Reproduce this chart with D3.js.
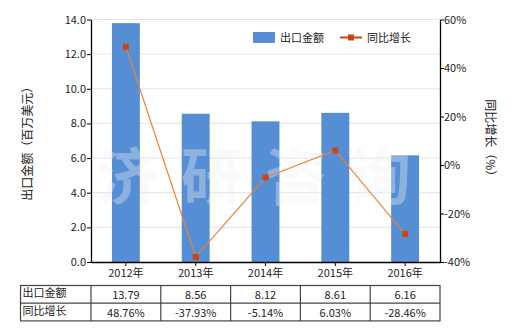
<!DOCTYPE html>
<html>
<head>
<meta charset="utf-8">
<script src="https://cdn.jsdelivr.net/npm/d3@7"></script>
<style>
  body { margin: 0; background: #fff; }
  svg { font-family: "Noto Sans CJK SC", "Noto Sans", sans-serif; }
</style>
</head>
<body>
<svg width="520" height="330"></svg>
<script>
const years = ["2012年", "2013年", "2014年", "2015年", "2016年"];
const exportValues = [13.79, 8.56, 8.12, 8.61, 6.16];
const growthValues = [48.76, -37.93, -5.14, 6.03, -28.46];
const exportLabels = ["13.79", "8.56", "8.12", "8.61", "6.16"];
const growthLabels = ["48.76%", "-37.93%", "-5.14%", "6.03%", "-28.46%"];
const leftTicks = [0, 2, 4, 6, 8, 10, 12, 14];
const rightTicks = [-40, -20, 0, 20, 40, 60];

const plotLeft = 91, plotRight = 440, plotTop = 19.5, plotBottom = 262;
const barColor = "#558ed5", lineColor = "#e8833a", markColor = "#c9470e";

const svg = d3.select("svg");

const x = d3.scaleBand()
  .domain(years)
  .range([plotLeft, plotRight]);

const yL = d3.scaleLinear().domain([0, 14]).range([plotBottom, plotTop]);
const yR = d3.scaleLinear().domain([-40, 60]).range([plotBottom, plotTop]);

// grid
svg.append("g").selectAll("line").data(leftTicks.slice(1))
  .enter().append("line")
  .attr("x1", plotLeft).attr("x2", plotRight)
  .attr("y1", d => yL(d)).attr("y2", d => yL(d))
  .attr("stroke", "#e3e3e3");

// bars
const barW = x.bandwidth() * 0.4;
svg.append("g").selectAll("rect").data(exportValues)
  .enter().append("rect")
  .attr("x", (d, i) => x(years[i]) + x.bandwidth() / 2 - barW / 2)
  .attr("y", d => yL(d))
  .attr("width", barW)
  .attr("height", d => plotBottom - yL(d))
  .attr("fill", barColor);

// watermark
svg.append("text")
  .attr("x", 265).attr("y", 200)
  .attr("text-anchor", "middle")
  .attr("font-size", 62)
  .attr("font-weight", "bold")
  .attr("letter-spacing", 22)
  .attr("fill", "#f2f2f2")
  .attr("opacity", 0.35)
  .text("济研咨询");

// line
const line = d3.line()
  .x((d, i) => x(years[i]) + x.bandwidth() / 2)
  .y(d => yR(d));
svg.append("path").datum(growthValues)
  .attr("d", line)
  .attr("fill", "none")
  .attr("stroke", lineColor)
  .attr("stroke-width", 1.2);
svg.append("g").selectAll("rect").data(growthValues)
  .enter().append("rect")
  .attr("x", (d, i) => x(years[i]) + x.bandwidth() / 2 - 3)
  .attr("y", d => yR(d) - 3)
  .attr("width", 6).attr("height", 6)
  .attr("fill", markColor);

// axes
const axL = svg.append("g")
  .attr("transform", `translate(${plotLeft},0)`)
  .call(d3.axisLeft(yL).tickValues(leftTicks).tickFormat(d3.format(".1f")).tickSize(4).tickSizeOuter(0));
const axR = svg.append("g")
  .attr("transform", `translate(${plotRight},0)`)
  .call(d3.axisRight(yR).tickValues(rightTicks).tickFormat(d => d + "%").tickSize(4).tickSizeOuter(0));
const axB = svg.append("g")
  .attr("transform", `translate(0,${plotBottom})`)
  .call(d3.axisBottom(x).tickSize(4).tickSizeOuter(0));
[axL, axR, axB].forEach(a => {
  a.select(".domain").attr("stroke", "#000").attr("stroke-width", 1.3);
  a.selectAll(".tick line").attr("stroke", "#000");
  a.selectAll("text").attr("font-size", 11).attr("fill", "#222").attr("font-family", "Noto Sans CJK SC, sans-serif");
});
axL.selectAll("text").attr("x", -5);
axR.selectAll("text").attr("x", 4);
axB.selectAll("text").attr("y", 7);

// axis titles
svg.append("text")
  .attr("transform", `translate(32,${(plotTop + plotBottom) / 2}) rotate(-90)`)
  .attr("text-anchor", "middle")
  .attr("font-size", 12).attr("fill", "#222")
  .text("出口金额（百万美元）");
svg.append("text")
  .attr("transform", `translate(486,${(plotTop + plotBottom) / 2}) rotate(90)`)
  .attr("text-anchor", "middle")
  .attr("font-size", 12).attr("fill", "#222")
  .text("同比增长（%）");

// legend
svg.append("rect").attr("x", 253).attr("y", 32).attr("width", 22).attr("height", 11).attr("fill", barColor);
svg.append("text").attr("x", 280).attr("y", 42).attr("font-size", 11).attr("fill", "#222").text("出口金额");
svg.append("line").attr("x1", 340).attr("x2", 362).attr("y1", 37.5).attr("y2", 37.5)
  .attr("stroke", markColor).attr("stroke-width", 2);
svg.append("rect").attr("x", 348).attr("y", 34.5).attr("width", 6).attr("height", 6).attr("fill", markColor);
svg.append("text").attr("x", 367).attr("y", 42).attr("font-size", 11).attr("fill", "#222").text("同比增长");

// table
const tTop = 285.5, rowH = 17.7, tLeft = 20.5;
const rows = [
  { name: "出口金额", vals: exportLabels },
  { name: "同比增长", vals: growthLabels }
];
const tg = svg.append("g");
tg.append("rect")
  .attr("x", tLeft).attr("y", tTop)
  .attr("width", plotRight - tLeft).attr("height", rowH * 2)
  .attr("fill", "none").attr("stroke", "#444").attr("stroke-width", 1.2);
tg.append("line").attr("x1", tLeft).attr("x2", plotRight)
  .attr("y1", tTop + rowH).attr("y2", tTop + rowH)
  .attr("stroke", "#444").attr("stroke-width", 1.2);
tg.selectAll("line.col").data(years)
  .enter().append("line")
  .attr("x1", d => x(d)).attr("x2", d => x(d))
  .attr("y1", tTop).attr("y2", tTop + rowH * 2)
  .attr("stroke", "#444").attr("stroke-width", 1.2);
rows.forEach((r, ri) => {
  const cy = tTop + rowH * ri + rowH / 2 + 4;
  tg.append("text").attr("x", tLeft + 2).attr("y", cy - 1)
    .attr("font-size", 11).attr("fill", "#222").text(r.name);
  tg.selectAll(null).data(r.vals)
    .enter().append("text")
    .attr("x", (d, i) => x(years[i]) + x.bandwidth() / 2)
    .attr("y", cy + 1)
    .attr("text-anchor", "middle")
    .attr("font-size", 11).attr("fill", "#222")
    .text(d => d);
});
</script>
</body>
</html>
